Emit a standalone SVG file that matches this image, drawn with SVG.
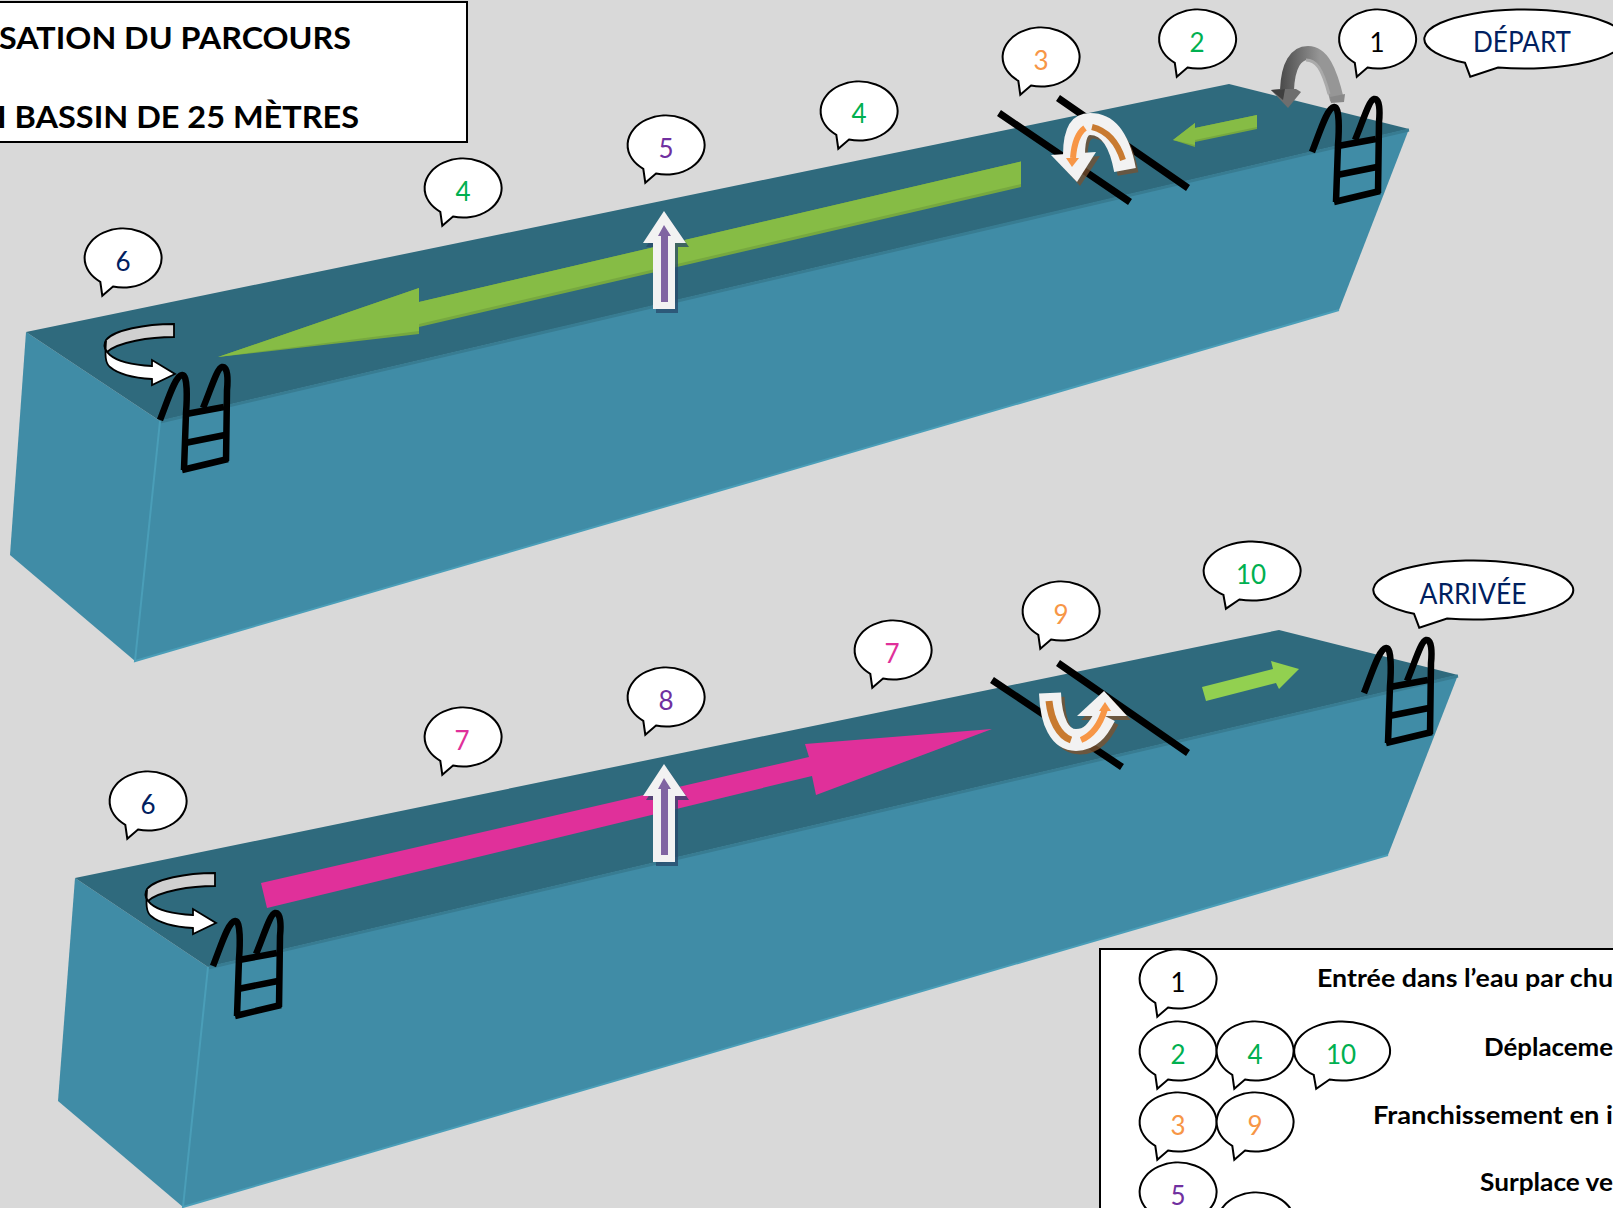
<svg xmlns="http://www.w3.org/2000/svg" xmlns:xlink="http://www.w3.org/1999/xlink" width="1613" height="1208" viewBox="0 0 1613 1208">
<style>
.front{fill:#408CA6}
.edge{fill:none;stroke:#4A9EB8;stroke-width:2}
.top{fill:#2F6A7D}
.rim{fill:none;stroke:#387C92;stroke-width:3}
.b{fill:#fff;stroke:#000;stroke-width:2}
.n{font-family:"Lato","Liberation Sans",sans-serif;font-size:26px;text-anchor:middle}
.w{font-family:"Lato","Liberation Sans",sans-serif;font-size:28px;text-anchor:middle;fill:#002060}
.t{font-family:"Lato","Liberation Sans",sans-serif;font-weight:700;fill:#000}
.lad{fill:none;stroke:#000;stroke-width:6.500;stroke-linecap:butt;stroke-linejoin:miter}
.bar{stroke:#000;stroke-width:7;fill:none}
.band{fill:none;stroke-linecap:butt}
.green{fill:#86BC45}
.greend{fill:#76A840}
.turnA{fill:#D0D0D0;stroke:#000;stroke-width:1.8}
.turnB{fill:#fff;stroke:#000;stroke-width:1.8}
</style>
<defs>
<path id="bubble" vector-effect="non-scaling-stroke" d="M-10,28.500A38.500 29.500 0 1 0-22.700,23.800L-20.700,37.700Z"/>
<g id="ladder" class="lad">
<path d="M0,0C8,-20 15,-44 22,-45C28,-46 27,-20 26,-7L24,50"/>
<path d="M43,-12C50,-28 57,-52 62,-53C68,-54 68,-40 67,-30L66,41"/>
<path d="M26,-6L64,-13M25,23L65,15M22,50L68,39"/>
</g>
<g id="turn">
<path class="turnA" d="M174,324V337C150,337 118,342 107,352C103,347 105,342 106,340C114,330 145,324 174,324Z"/>
<path class="turnB" d="M106,341C103,347 105,350 110,355C118,362 135,365 152,366V360L175,374L152,385V379C135,378 118,374 110,367C105,363 105,355 106,341Z"/>
</g>
<g id="up">
<path fill="#27486A" fill-opacity=".75" d="M667,215L689,247H678V313H656V247H646Z"/>
<path fill="#F2F2F2" d="M664,211L686,243H675V309H653V243H643Z"/>
<path fill="#8064A2" d="M664,225L671,236H668V302H661V236H658Z"/>
</g>
<linearGradient id="grayband" gradientUnits="userSpaceOnUse" x1="1280" y1="0" x2="1320" y2="0">
<stop offset="0" stop-color="#4A4A4A"/><stop offset="1" stop-color="#969696"/>
</linearGradient>
</defs>
<rect width="1613" height="1208" fill="#D9D9D9"/>

<g id="bassin-haut">
<path class="front" d="M26,332L160,421L135,661L10,555Z"/>
<path class="front" d="M160,421L1409,129L1339,310L135,661Z"/>
<path class="top" d="M26,332L1229,84L1409,129L160,421Z"/>
<path class="rim" d="M160,422L1409,130"/>
<path class="edge" d="M160,421L135,661L1339,310"/>
</g>
<g id="bassin-bas">
<path class="front" d="M75,878L208,967L183,1207L58,1101Z"/>
<path class="front" d="M208,967L1458,675L1388,855L183,1207Z"/>
<path class="top" d="M75,878L1279,630L1458,675L208,967Z"/>
<path class="rim" d="M208,968L1458,676"/>
<path class="edge" d="M208,967L183,1207L1388,855"/>
</g>

<g id="connectors">
<g id="nage-4">
<path class="greend" d="M1021,161.500V187L419,327V334L218,357L419,288V302Z"/>
<path class="green" d="M1021,161.500V184L419,324V331L218,357L419,288V302Z"/>
</g>
<g id="nage-2">
<path class="greend" d="M1257,115V129L1195,142V147L1173,140L1195,123V128Z"/>
<path class="green" d="M1257,115V127L1195,140V145L1173,140L1195,123V128Z"/>
</g>
<path id="nage-7" fill="#E0309A" d="M261,883L809,757L805,744L992,729L816,795L812,776L267,908Z"/>
<path id="nage-10" fill="#92D050" d="M1202,687L1273,669L1271,661L1299,669L1279,689L1276,683L1206,701Z"/>
<path class="bar" d="M999,113L1130,202M1058,98L1188,188"/>
<path class="bar" d="M992,680L1122,767M1058,663L1188,753"/>

<g id="chute">
<path class="band" stroke="url(#grayband)" stroke-width="14" d="M1337,100C1330,70 1322,53 1308,53C1296,53 1288,65 1287,90"/>
<path fill="#6E6E6E" d="M1271,90L1280,89H1296L1301,92L1288,108Z"/>
<path fill="#3F3F3F" d="M1271,90L1285,89L1283,100Z"/>
<path class="band" stroke="#AAAAAA" stroke-width="3" d="M1329,94C1322,68 1316,60 1306,60"/>
<path fill="#888" d="M1330,97L1345,94L1344,102L1331,103Z"/>
</g>

<g id="franchissement-3">
<path class="band" stroke="#7A5230" stroke-opacity=".75" stroke-width="21" d="M1128,174C1122,138 1106,128 1093,128C1081,128 1077,141 1077,159"/>
<path fill="#7A5230" fill-opacity=".75" d="M1056,159L1100,156L1080,186Z"/>
<path class="band" stroke="#F2F2F2" stroke-width="22" d="M1125,170C1118,132 1103,124 1090,124C1078,124 1074,137 1074,155"/>
<path fill="#F2F2F2" d="M1051,155L1096,152L1077,182Z"/>
<path class="band" stroke="#C87A30" stroke-width="6" d="M1123,160C1116,138 1104,130 1092,127"/>
<path class="band" stroke="#F79646" stroke-width="6" d="M1085,128C1078,133 1074,145 1073,158"/>
<path fill="#F79646" d="M1066,158L1079,158L1072,167Z"/>
</g>

<g id="franchissement-9">
<path class="band" stroke="#7A5230" stroke-opacity=".8" stroke-width="21" d="M1054,697C1055,726 1064,744 1080,744C1094,744 1102,734 1109,720"/>
<path fill="#7A5230" fill-opacity=".8" d="M1081,720L1108,695L1131,720Z"/>
<path class="band" stroke="#F2F2F2" stroke-width="22" d="M1050,693C1051,722 1060,740 1076,740C1090,740 1098,730 1105,716"/>
<path fill="#F2F2F2" d="M1077,716L1104,691L1127,716Z"/>
<path class="band" stroke="#C87A30" stroke-width="7" d="M1049,701C1051,720 1059,736 1071,740"/>
<path class="band" stroke="#F79646" stroke-width="6" d="M1081,740C1093,735 1100,725 1105,709"/>
<path fill="#F79646" d="M1099,711L1105,702L1111,711Z"/>
</g>

<use id="plat-6a" xlink:href="#turn" href="#turn"/>
<use id="plat-6b" xlink:href="#turn" href="#turn" transform="translate(41,549)"/>
<use id="surplace-5" xlink:href="#up" href="#up"/>
<use id="surplace-8" xlink:href="#up" href="#up" transform="translate(0,553)"/>
</g>

<g id="echelles">
<use href="#ladder" transform="translate(1312,152)"/>
<use href="#ladder" transform="translate(160,420)"/>
<use href="#ladder" transform="translate(213,966)"/>
<use href="#ladder" transform="translate(1364,693)"/>
</g>

<g id="titre">
<rect x="-3" y="2" width="470" height="140" fill="#fff" stroke="#000" stroke-width="2"/>
<text class="t" x="-1" y="49" font-size="31" textLength="352" lengthAdjust="spacingAndGlyphs">SATION DU PARCOURS</text>
<text class="t" x="-3" y="128" font-size="31" textLength="362" lengthAdjust="spacingAndGlyphs">I BASSIN DE 25 MÈTRES</text>
</g>

<g id="bulle-1"><use class="b" href="#bubble" transform="translate(1377.500,39)"/><text class="n" x="1377" y="52" fill="#000">1</text></g>
<g id="bulle-depart"><use class="b" href="#bubble" transform="translate(1524,39) scale(2.597,1)"/><text class="w" x="1522" y="52" textLength="98" lengthAdjust="spacingAndGlyphs">DÉPART</text></g>
<g id="bulle-2"><use class="b" href="#bubble" transform="translate(1197.500,39)"/><text class="n" x="1197" y="52" fill="#00B050">2</text></g>
<g id="bulle-3"><use class="b" href="#bubble" transform="translate(1041,57)"/><text class="n" x="1041" y="70" fill="#F79646">3</text></g>
<g id="bulle-4b"><use class="b" href="#bubble" transform="translate(859,111)"/><text class="n" x="859" y="123" fill="#00B050">4</text></g>
<g id="bulle-5"><use class="b" href="#bubble" transform="translate(666,145)"/><text class="n" x="666" y="158" fill="#7030A0">5</text></g>
<g id="bulle-4a"><use class="b" href="#bubble" transform="translate(463,188)"/><text class="n" x="463" y="201" fill="#00B050">4</text></g>
<g id="bulle-6a"><use class="b" href="#bubble" transform="translate(123,258)"/><text class="n" x="123" y="271" fill="#002060">6</text></g>
<g id="bulle-6b"><use class="b" href="#bubble" transform="translate(148,801)"/><text class="n" x="148" y="814" fill="#002060">6</text></g>
<g id="bulle-7a"><use class="b" href="#bubble" transform="translate(463,737)"/><text class="n" x="462" y="750" fill="#E0309A">7</text></g>
<g id="bulle-8"><use class="b" href="#bubble" transform="translate(666,697)"/><text class="n" x="666" y="710" fill="#7030A0">8</text></g>
<g id="bulle-7b"><use class="b" href="#bubble" transform="translate(893,650)"/><text class="n" x="892" y="663" fill="#E0309A">7</text></g>
<g id="bulle-9"><use class="b" href="#bubble" transform="translate(1061,611)"/><text class="n" x="1061" y="624" fill="#F79646">9</text></g>
<g id="bulle-10"><use class="b" href="#bubble" transform="translate(1252,571)scale(1.260,1)"/><text class="n" x="1251" y="584" fill="#00B050">10</text></g>
<g id="bulle-arrivee"><use class="b" href="#bubble" transform="translate(1473,590) scale(2.597,1)"/><text class="w" x="1473" y="604" textLength="107" lengthAdjust="spacingAndGlyphs">ARRIVÉE</text></g>

<g id="legende">
<rect x="1100" y="949" width="520" height="270" fill="#fff" stroke="#000" stroke-width="2"/>
<g id="leg-1"><use class="b" href="#bubble" transform="translate(1178,979)"/><text class="n" x="1178" y="992" fill="#000">1</text></g>
<text class="t" x="1317" y="987" font-size="25" textLength="296" lengthAdjust="spacingAndGlyphs">Entrée dans l’eau par chu</text>
<g id="leg-2"><use class="b" href="#bubble" transform="translate(1178,1051)"/><text class="n" x="1178" y="1064" fill="#00B050">2</text></g>
<g id="leg-4"><use class="b" href="#bubble" transform="translate(1255,1051)"/><text class="n" x="1255" y="1064" fill="#00B050">4</text></g>
<g id="leg-10"><use class="b" href="#bubble" transform="translate(1342,1051)scale(1.247,1)"/><text class="n" x="1341" y="1064" fill="#00B050">10</text></g>
<text class="t" x="1484" y="1056" font-size="25" textLength="129" lengthAdjust="spacingAndGlyphs">Déplaceme</text>
<g id="leg-3"><use class="b" href="#bubble" transform="translate(1178,1122)"/><text class="n" x="1178" y="1135" fill="#F79646">3</text></g>
<g id="leg-9"><use class="b" href="#bubble" transform="translate(1255,1122)"/><text class="n" x="1255" y="1135" fill="#F79646">9</text></g>
<text class="t" x="1373" y="1124" font-size="25" textLength="240" lengthAdjust="spacingAndGlyphs">Franchissement en i</text>
<g id="leg-5"><use class="b" href="#bubble" transform="translate(1178,1192)"/><text class="n" x="1178" y="1205" fill="#7030A0">5</text></g>
<g id="leg-8"><use class="b" href="#bubble" transform="translate(1256,1222)"/></g>
<text class="t" x="1480" y="1191" font-size="25" textLength="133" lengthAdjust="spacingAndGlyphs">Surplace ve</text>
</g>
</svg>
